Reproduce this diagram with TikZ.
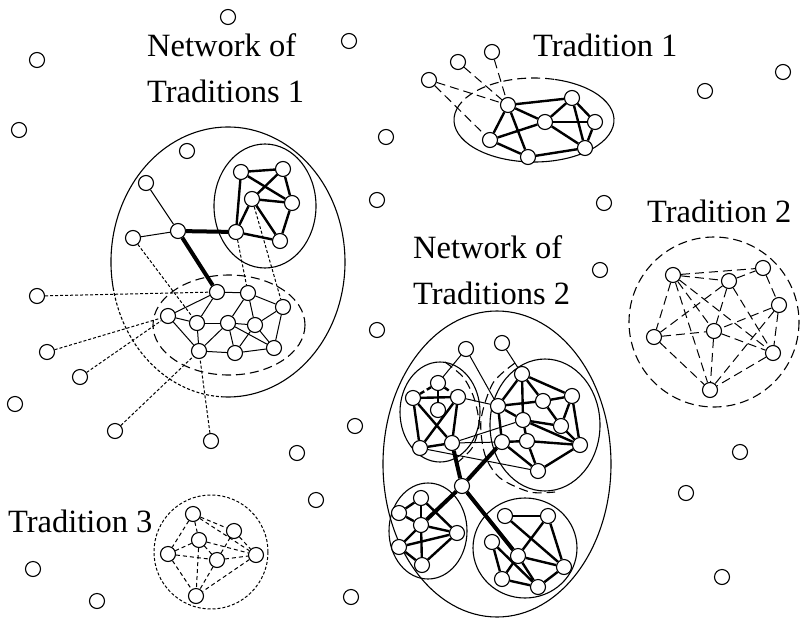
\documentclass[tikz,border=0pt]{standalone}
\usepackage{fontspec}
\setmainfont{Liberation Serif}
\pgfdeclarelayer{bg}
\pgfsetlayers{bg,main}
\tikzset{
  nd/.style={circle,draw,fill=white,minimum size=15pt,inner sep=0pt,line width=1.1pt},
  thin/.style={line width=1pt},
  thk/.style={line width=2.4pt},
  bridge/.style={line width=4pt},
  dsh/.style={line width=1pt,dash pattern=on 4pt off 3pt},
  tdsh/.style={line width=2.4pt,dash pattern=on 5pt off 3pt},
  ldsh/.style={line width=1.1pt,dash pattern=on 9pt off 5pt},
  sdsh/.style={line width=1pt,dash pattern=on 3pt off 2pt},
  hull/.style={line width=1.1pt},
  lbl/.style={font=\fontsize{32.5}{40}\selectfont,inner sep=0pt,anchor=base west},
}
\begin{document}
\begin{tikzpicture}[x=1pt,y=-1pt]
\useasboundingbox (0,0) rectangle (801,619);

% ---------- labels ----------
\node[lbl] (labA1) at (147,56) {Network of};
\node[lbl] (labA2) at (147,102) {Traditions 1};
\node[lbl] (labB1) at (413,258) {Network of};
\node[lbl] (labB2) at (413,304) {Traditions 2};
\node[lbl] (labT1) at (533,56) {Tradition 1};
\node[lbl] (labT2) at (647,222) {Tradition 2};
\node[lbl] (labT3) at (8,532) {Tradition 3};

% ---------- isolated nodes ----------
\foreach \n/\p in {i1/{(228,17)},i2/{(349,41)},i3/{(37,60)},i4/{(19,130)},
  i5/{(386,137)},i6/{(187,151)},i7/{(377,200)},i8/{(604,203)},i9/{(705,91)},
  i10/{(783,72)},i11/{(600,270)},i12/{(377,330)},i13/{(15,404)},
  i14/{(297,453)},i15/{(355,426)},i16/{(316,500)},i17/{(33,569)},
  i18/{(97,601)},i19/{(351,597)},i20/{(686,493)},i21/{(740,452)},i22/{(722,577)}}
  \node[nd] (\n) at \p {};

% ---------- Tradition 1 ----------
\foreach \n/\p in {oa/{(429,80)},ob/{(458,62)},oc/{(492,52)},
  o1/{(508,105)},o2/{(572,98)},o3/{(545,122)},o4/{(595,122)},
  o5/{(490,140)},o6/{(528,157)},o7/{(585,148)}}
  \node[nd] (\n) at \p {};

% ---------- Tradition 2 ----------
\foreach \n/\p in {w1/{(673,275)},w2/{(729,281)},w3/{(763,268)},w4/{(779,305)},
  w5/{(654,337)},w6/{(714,331)},w7/{(773,353)},w8/{(710,390)}}
  \node[nd] (\n) at \p {};

% ---------- Tradition 3 ----------
\foreach \n/\p in {v1/{(193,514)},v2/{(234,531)},v3/{(199,540)},v4/{(168,554)},
  v5/{(217,560)},v6/{(256,555)},v7/{(196,596)}}
  \node[nd] (\n) at \p {};

% ---------- Network of Traditions 1 ----------
\foreach \n/\p in {n1/{(241,172)},n2/{(283,169)},n3/{(252,199)},n4/{(292,203)},
  n5/{(236,232)},n6/{(280,241)},
  L1/{(146,183)},L2/{(133,238)},H1/{(178,231)},
  m1/{(217,292)},m2/{(248,293)},m3/{(283,307)},m4/{(168,316)},m5/{(197,323)},
  m6/{(228,323)},m7/{(255,325)},m8/{(199,351)},m9/{(235,353)},m10/{(274,348)},
  q1/{(37,296)},q2/{(47,352)},q3/{(80,377)},q4/{(115,431)},q5/{(211,441)}}
  \node[nd] (\n) at \p {};

% ---------- Network of Traditions 2 ----------
\foreach \n/\p in {t0/{(466,349)},t1/{(438,383)},t2/{(413,398)},t3/{(458,397)},
  t4/{(438,410)},t5/{(420,448)},t6/{(452,443)},
  rt/{(502,343)},r0/{(522,374)},r1/{(498,406)},r2/{(543,401)},r3/{(572,396)},
  r4/{(523,420)},r5/{(561,426)},r6/{(502,442)},r7/{(527,441)},r8/{(580,445)},
  r9/{(538,471)},
  H2/{(462,486)},
  b1/{(421,498)},b2/{(399,513)},b3/{(421,525)},b4/{(457,533)},b5/{(399,547)},
  b6/{(422,565)},
  c1/{(505,516)},c2/{(548,516)},c3/{(492,542)},c4/{(518,556)},c5/{(564,567)},
  c6/{(502,579)},c7/{(538,587)}}
  \node[nd] (\n) at \p {};

\begin{pgfonlayer}{bg}
% ----- hulls -----
% Tradition 1
\draw[hull] (534,120) ++(285:80 and 42) arc[start angle=285,end angle=555,x radius=80,y radius=42];
\draw[hull,dash pattern=on 9pt off 5pt] (534,120) ++(195:80 and 42) arc[start angle=195,end angle=285,x radius=80,y radius=42];
% Tradition 2
\draw[ldsh] (714,322) circle[radius=85];
% Tradition 3
\draw[sdsh] (211,552) circle[radius=57];
% Network of Traditions 1
\draw[hull] (228,262) ++(168:117 and 135) arc[start angle=168,end angle=452,x radius=117,y radius=135];
\draw[sdsh,line width=1.1pt] (228,262) ++(92:117 and 135) arc[start angle=92,end angle=168,x radius=117,y radius=135];
\draw[hull] (265,206) ellipse[x radius=51,y radius=62];
\draw[ldsh] (229,325) ellipse[x radius=76,y radius=50];
% Network of Traditions 2
\draw[hull] (497,464) ellipse[x radius=114,y radius=153];
\draw[hull] (440,412) ellipse[x radius=40,y radius=50];
\draw[hull] (545,425) ellipse[x radius=55,y radius=66];
\draw[hull] (428,531) ellipse[x radius=39,y radius=48];
\draw[hull] (525,548) ellipse[x radius=52,y radius=50];
\draw[ldsh] plot[smooth] coordinates {(445,362) (463,377) (474,398) (479,425) (472,448) (458,462)};
\draw[ldsh] plot[smooth] coordinates {(515,363) (493,383) (481,420) (485,455) (500,478) (530,492) (555,492)};

% ----- Tradition 1 edges -----
\foreach \a/\b in {o1/o2,o1/o3,o1/o5,o1/o6,o2/o3,o2/o4,o2/o7,o3/o4,o3/o5,o3/o7,o4/o7,o5/o6,o6/o7}
  \draw[thk] (\a) -- (\b);
\foreach \a/\b in {oa/o1,oa/o5,ob/o1,oc/o1}
  \draw[ldsh,line width=1pt] (\a) -- (\b);

% ----- Tradition 2 edges -----
\foreach \a/\b in {w1/w2,w1/w3,w2/w3,w1/w5,w1/w6,w1/w7,w1/w8,w2/w5,w2/w6,w2/w7,
  w3/w4,w4/w6,w4/w7,w4/w8,w5/w6,w5/w8,w6/w7,w6/w8,w7/w8}
  \draw[ldsh,line width=1pt] (\a) -- (\b);

% ----- Tradition 3 edges -----
\foreach \a/\b in {v1/v2,v1/v6,v1/v3,v1/v4,v3/v4,v3/v6,v3/v5,v3/v7,v4/v5,v4/v7,
  v5/v2,v5/v6,v5/v7,v2/v6,v6/v7}
  \draw[dsh] (\a) -- (\b);

% ----- Network of Traditions 1 edges -----
\foreach \a/\b in {n1/n2,n1/n4,n2/n3,n2/n4,n1/n5,n3/n4,n3/n5,n3/n6,n5/n6,n4/n6}
  \draw[thk] (\a) -- (\b);
\foreach \a/\b in {L1/H1,L2/H1,m1/m2,m1/m4,m1/m5,m2/m6,m2/m7,m2/m3,m3/m7,m3/m10,
  m4/m5,m4/m8,m5/m6,m5/m8,m6/m7,m6/m8,m6/m9,m6/m10,m7/m9,m7/m10,m8/m9,m9/m10}
  \draw[thin] (\a) -- (\b);
\foreach \a/\b in {H1/n5,H1/m1}
  \draw[bridge] (\a) -- (\b);
\foreach \a/\b in {q1/m1,q2/m4,q3/m4,q4/m8,q5/m8,L2/m5,n5/m2,n3/m3}
  \draw[sdsh] (\a) -- (\b);

% ----- Network of Traditions 2 edges -----
\foreach \a/\b in {t2/t3,t1/t4,t2/t5,t2/t6,t3/t6,t3/t5,t5/t6,
  r0/r1,r0/r2,r0/r3,r0/r4,r1/r2,r1/r4,r1/r6,r2/r3,r2/r5,r3/r5,r3/r8,r4/r5,r4/r7,
  r4/r8,r5/r8,r6/r7,r7/r8,r6/r9,r7/r9,r8/r9,
  b1/b2,b1/b3,b1/b4,b2/b3,b3/b4,b3/b5,b5/b4,b3/b6,b5/b6,b4/b6,
  c1/c2,c1/c5,c2/c4,c2/c5,c3/c6,c3/c7,c4/c5,c4/c6,c4/c7,c6/c7,c5/c7}
  \draw[thk] (\a) -- (\b);
\foreach \a/\b in {t1/t2,t1/t3}
  \draw[tdsh] (\a) -- (\b);
\foreach \a/\b in {t0/t1,t0/r1,t3/r1,t6/r4,t6/r6,t5/r9,rt/r0}
  \draw[thin] (\a) -- (\b);
\foreach \a/\b in {H2/t6,H2/r6,H2/b3,H2/c4}
  \draw[bridge] (\a) -- (\b);
\end{pgfonlayer}
\end{tikzpicture}
\end{document}
